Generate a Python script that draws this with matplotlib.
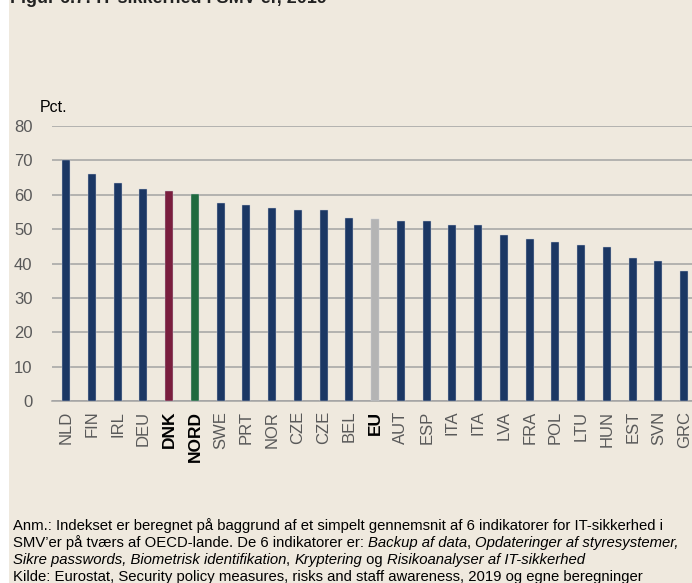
import matplotlib
matplotlib.use('Agg')
import matplotlib.pyplot as plt
from matplotlib import font_manager
from matplotlib.patches import Rectangle

categories = ['NLD', 'FIN', 'IRL', 'DEU', 'DNK', 'NORD', 'SWE', 'PRT', 'NOR', 'CZE',
              'CZE', 'BEL', 'EU', 'AUT', 'ESP', 'ITA', 'ITA', 'LVA', 'FRA', 'POL',
              'LTU', 'HUN', 'EST', 'SVN', 'GRC']
values = [70.1, 66.0, 63.3, 61.6, 61.2, 60.2, 57.7, 56.9, 56.1, 55.6,
          55.6, 53.2, 52.9, 52.5, 52.3, 51.1, 51.1, 48.2, 47.0, 46.3,
          45.3, 44.9, 41.6, 40.8, 37.9]
highlight_colors = {'DNK': '#7A1E3E', 'NORD': '#1F6A3F', 'EU': '#B4B4B4'}
bold_labels = ['DNK', 'NORD', 'EU']
yticks = [0, 10, 20, 30, 40, 50, 60, 70, 80]
ylabel = 'Pct.'
title = 'Figur 6.7: IT-sikkerhed i SMV\u2019er, 2019'
note_lines = [
    [("Anm.: Indekset er beregnet på baggrund af et simpelt gennemsnit af 6 indikatorer for IT-sikkerhed i", 'normal')],
    [("SMV\u2019er på tværs af OECD-lande. De 6 indikatorer er: ", 'normal'), ("Backup af data", 'italic'),
     (", ", 'normal'), ("Opdateringer af styresystemer,", 'italic')],
    [("Sikre passwords, Biometrisk identifikation", 'italic'), (", ", 'normal'), ("Kryptering", 'italic'),
     (" og ", 'normal'), ("Risikoanalyser af IT-sikkerhed", 'italic')],
    [("Kilde: Eurostat, Security policy measures, risks and staff awareness, 2019 og egne beregninger", 'normal')],
]

names = {f.name for f in font_manager.fontManager.ttflist}
FONT = 'Liberation Sans' if 'Liberation Sans' in names else 'DejaVu Sans'
NARROW = 'Liberation Sans Narrow' if 'Liberation Sans Narrow' in names else FONT
plt.rcParams['font.family'] = [FONT, 'DejaVu Sans']

W, H = 692, 583
fig = plt.figure(figsize=(W / 100, H / 100), dpi=100)
fig.patch.set_facecolor('white')
fig.patches.append(Rectangle((9 / W, 0), 1, 1, transform=fig.transFigure,
                             facecolor='#EFE9DE', edgecolor='none', zorder=-10))

nav = '#1B3764'
x = list(range(len(categories)))
colors = [highlight_colors.get(c, nav) for c in categories]

ax_left = 52 / W
ax_bottom = (H - 401) / H
ax_height = 275 / H
slot = 25.75
xmin, xmax = -0.55, len(categories) - 0.45
ax_width = (xmax - xmin) * slot / W
ax = fig.add_axes([ax_left, ax_bottom, ax_width, ax_height])
ax.set_facecolor('none')
ax.bar(x, values, width=0.31, color=colors, zorder=3, edgecolor='#C9CED8', linewidth=0.3)
ax.set_xlim(xmin, xmax)
ax.set_ylim(0, 80)
ax.set_yticks(yticks)
ax.yaxis.grid(True, color='#A3A3A3', linewidth=1.1, zorder=0)
ax.set_axisbelow(True)
for s in ['top', 'right', 'left']:
    ax.spines[s].set_visible(False)
ax.spines['bottom'].set_color('#A3A3A3')
ax.spines['bottom'].set_linewidth(1.1)
ax.tick_params(axis='both', length=0)
ax.tick_params(axis='y', pad=14, labelcolor='#595959')
ax.set_yticklabels([str(v) for v in yticks], fontsize=12, family=NARROW)
ax.set_xticks(x)
ax.set_xticklabels(categories, rotation=90, fontsize=12, color='#595959')
ax.tick_params(axis='x', pad=7)
for lbl in ax.get_xticklabels():
    if lbl.get_text() in bold_labels:
        lbl.set_fontweight('bold')
        lbl.set_color('black')
        lbl.set_fontsize(12.5)

fig.text(40 / W, 1 - 112 / H, ylabel, fontsize=11.5, color='black', ha='left', va='baseline')
fig.text(10 / W, 1 - 3 / H, title, fontsize=13, fontweight='bold', color='#222222',
         ha='left', va='baseline')

# footnote with mixed styles
renderer = fig.canvas.get_renderer()
NOTE_FS = 10.7


def seg_width(s, style):
    t1 = fig.text(0, 0, '|' + s + '|', fontsize=NOTE_FS, style=style)
    t2 = fig.text(0, 0, '||', fontsize=NOTE_FS, style=style)
    w = t1.get_window_extent(renderer).width - t2.get_window_extent(renderer).width
    t1.remove()
    t2.remove()
    return w


baselines = [530, 547, 564, 581]
for line, yb in zip(note_lines, baselines):
    xp = 13.0
    for s, style in line:
        fig.text(xp / W, 1 - yb / H, s, fontsize=NOTE_FS, style=style, color='black',
                 ha='left', va='baseline')
        xp += seg_width(s, style)

fig.savefig('out.png', dpi=100, facecolor=fig.get_facecolor())
